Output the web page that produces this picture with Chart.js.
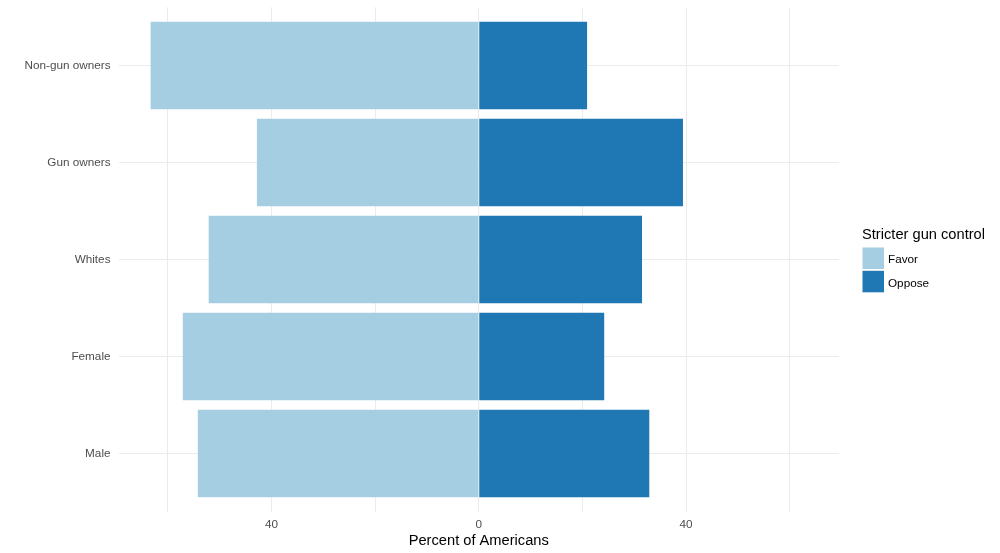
<!DOCTYPE html>
<html>
<head>
<meta charset="utf-8">
<script src="https://cdn.jsdelivr.net/npm/chart.js@4"></script>
<style>
  html, body { margin: 0; padding: 0; background: #fff; }
  #wrap { position: relative; width: 1000px; height: 553px; }
</style>
</head>
<body>
<div id="wrap"><canvas id="gunChart"></canvas></div>
<script>
// data (percent of Americans)
const categories = ['Male', 'Female', 'Whites', 'Gun owners', 'Non-gun owners'];
const favor = [54.2, 57.1, 52.1, 42.8, 63.3];
const oppose = [32.9, 24.2, 31.5, 39.4, 20.9];
const seriesNames = ['Favor', 'Oppose'];
const seriesColors = ['#a6cee3', '#1f78b4'];
const majorTicks = [-40, 0, 40];
const majorLabels = ['40', '0', '40'];

const FONT = '"Liberation Sans", Arial, Helvetica, sans-serif';

// ggplot style legend on the right
const sideLegend = {
  id: 'sideLegend',
  afterDraw(chart) {
    const ctx = chart.ctx;
    ctx.save();
    ctx.fillStyle = '#000';
    ctx.font = '14.67px ' + FONT;
    ctx.textBaseline = 'alphabetic';
    ctx.textAlign = 'left';
    ctx.fillText('Stricter gun control', 862, 239);
    seriesNames.forEach((name, i) => {
      const y = 247.5 + i * 23.3;
      ctx.fillStyle = seriesColors[i];
      ctx.fillRect(862.5, y, 21.5, 21.5);
      ctx.fillStyle = '#000';
      ctx.font = '11.73px ' + FONT;
      ctx.textBaseline = 'middle';
      ctx.fillText(name, 888, y + 12.5);
    });
    ctx.restore();
  }
};

const ctx = document.getElementById('gunChart').getContext('2d');
const gunChart = new Chart(ctx, {
  type: 'bar',
  data: {
    datasets: [
      {
        label: seriesNames[0],
        data: favor.map((v, i) => ({ x: -v, y: i })),
        backgroundColor: seriesColors[0],
        borderWidth: 0
      },
      {
        label: seriesNames[1],
        data: oppose.map((v, i) => ({ x: v, y: i })),
        backgroundColor: seriesColors[1],
        borderWidth: 0
      }
    ]
  },
  options: {
    indexAxis: 'y',
    responsive: true,
    maintainAspectRatio: false,
    animation: false,
    layout: { padding: { top: 7.3, right: 161, bottom: 0, left: 0 } },
    datasets: { bar: { categoryPercentage: 1, barPercentage: 0.9 } },
    plugins: {
      legend: { display: false },
      tooltip: { enabled: false }
    },
    scales: {
      x: {
        type: 'linear',
        stacked: true,
        min: -69.5,
        max: 69.5,
        border: { display: false },
        grid: { color: '#ebebeb', lineWidth: 1, drawTicks: false },
        ticks: {
          stepSize: 20,
          includeBounds: false,
          autoSkip: false,
          maxRotation: 0,
          padding: 6,
          color: '#4d4d4d',
          font: { family: FONT, size: 11.73 },
          callback: (v) => {
            const k = majorTicks.indexOf(v);
            return k >= 0 ? majorLabels[k] : '';
          }
        },
        title: {
          display: true,
          text: 'Percent of Americans',
          color: '#000',
          font: { family: FONT, size: 14.67 },
          padding: { top: 0, bottom: 3 }
        },
        afterFit: (scale) => {
          scale.height = 41.3;
          scale.paddingLeft = 0;
          scale.paddingRight = 0;
        }
      },
      y: {
        type: 'linear',
        stacked: true,
        offset: false,
        min: -0.6,
        max: 4.6,
        border: { display: false },
        grid: { color: '#ebebeb', lineWidth: 1, drawTicks: false, offset: false },
        ticks: {
          stepSize: 1,
          includeBounds: false,
          autoSkip: false,
          padding: 8,
          color: '#4d4d4d',
          font: { family: FONT, size: 11.73 },
          callback: (v) => categories[v] ?? ''
        },
        afterFit: (scale) => {
          scale.width = 118.5;
          scale.paddingTop = 0;
          scale.paddingBottom = 0;
        }
      }
    }
  },
  plugins: [sideLegend]
});
</script>
</body>
</html>
